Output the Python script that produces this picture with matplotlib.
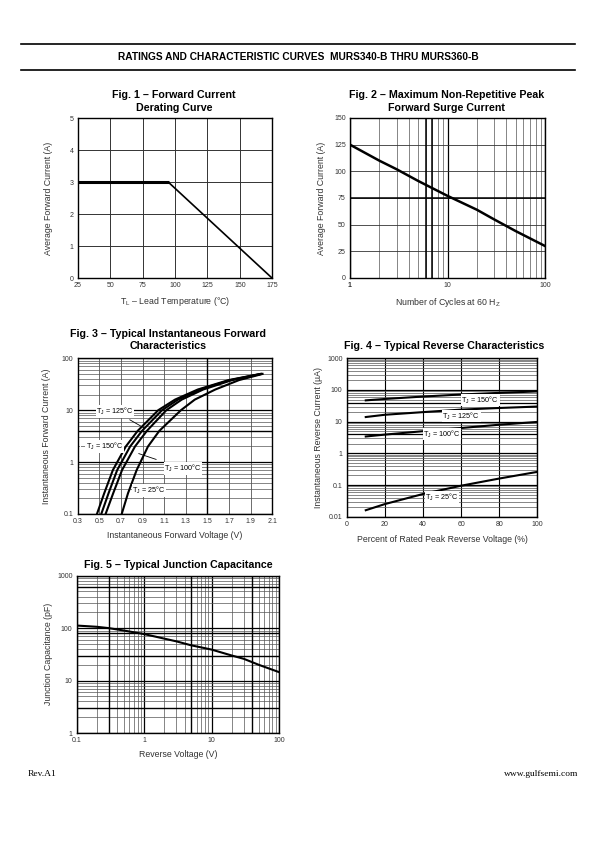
import matplotlib.pyplot as plt
import numpy as np
from matplotlib.ticker import LogLocator, NullFormatter, MultipleLocator

plt.rcParams['font.family'] = ['Liberation Sans', 'DejaVu Sans']
plt.rcParams['mathtext.fontset'] = 'custom'
plt.rcParams['mathtext.rm'] = 'Liberation Sans'
plt.rcParams['mathtext.it'] = 'Liberation Sans:italic'
plt.rcParams['mathtext.bf'] = 'Liberation Sans:bold'

# Fig 1 - derating curve
f1_temp = [25, 95, 175]
f1_curr = [3, 3, 0]

# Fig 2 - surge current
f2_cycles = [1, 2, 3, 5, 10, 20, 30, 50, 100]
f2_curr = [125, 110, 102, 91, 77, 64, 55, 44, 30]

# Fig 3 - forward characteristics (voltage at each current)
f3_current = [0.1, 0.25, 0.7, 2, 4, 10, 16, 25, 38, 50]
f3_v150 = [0.478, 0.545, 0.625, 0.745, 0.855, 1.045, 1.20, 1.41, 1.695, 1.99]
f3_v125 = [0.518, 0.585, 0.665, 0.785, 0.895, 1.08, 1.228, 1.428, 1.71, 1.995]
f3_v100 = [0.558, 0.628, 0.71, 0.83, 0.94, 1.12, 1.262, 1.46, 1.728, 2.0]
f3_v25 = [0.707, 0.765, 0.845, 0.95, 1.055, 1.255, 1.383, 1.572, 1.792, 2.01]

# Fig 4 - reverse characteristics
f4_pct = [10, 20, 40, 60, 80, 100]
f4_i150 = [47, 52, 62, 72, 81, 90]
f4_i125 = [14, 16.5, 20, 24, 27, 30]
f4_i100 = [3.4, 3.9, 5.0, 6.3, 8.0, 9.8]
f4_i25 = [0.016, 0.025, 0.052, 0.095, 0.16, 0.26]

# Fig 5 - junction capacitance
f5_volt = [0.1, 0.2, 0.3, 0.5, 1, 2, 3, 5, 10, 20, 30, 50, 100]
f5_cap = [112, 106, 100, 90, 77, 63, 56, 47, 39, 30, 26, 20, 14.5]

W, H = 595, 842
fig = plt.figure(figsize=(W / 100, H / 100), dpi=100)


def rect(l, r, t, b):
    return [l / W, 1 - b / H, (r - l) / W, (b - t) / H]


def px(x, y):
    return x / W, 1 - y / H


def style(ax):
    ax.tick_params(which='both', length=0, labelsize=5, pad=3, labelcolor='#333')
    for s in ax.spines.values():
        s.set_linewidth(1.0)
    ax.set_axisbelow(True)


def log_grid(ax, axis):
    getattr(ax, axis + 'axis').set_minor_locator(LogLocator(base=10, subs=np.arange(2, 10)))
    getattr(ax, axis + 'axis').set_minor_formatter(NullFormatter())
    ax.grid(which='minor', axis=axis, color='#555', lw=0.5)
    ax.grid(which='major', axis=axis, color='k', lw=0.9)


lab = dict(fontsize=6.3, color='#333')
tfont = dict(fontsize=7.7, fontweight='bold', ha='center', va='center')
box = dict(boxstyle='square,pad=0.1', fc='white', ec='none')

# header
fig.add_artist(plt.Line2D([21 / W, 575 / W], [1 - 43.5 / H] * 2, color='k', lw=1.2))
fig.add_artist(plt.Line2D([21 / W, 575 / W], [1 - 69.5 / H] * 2, color='k', lw=1.2))
fig.text(*px(298, 56.5), 'RATINGS AND CHARACTERISTIC CURVES  MURS340-B THRU MURS360-B',
         fontsize=7.3, fontweight='bold', ha='center', va='center')

# ---- Fig 1
ax1 = fig.add_axes(rect(77.7, 272.3, 118.3, 278.3))
ax1.plot(f1_temp[:2], f1_curr[:2], color='k', lw=2.2, solid_capstyle='butt')
ax1.plot(f1_temp[1:], f1_curr[1:], color='k', lw=1.2)
ax1.set_xlim(25, 175)
ax1.set_ylim(0, 5)
ax1.xaxis.set_major_locator(MultipleLocator(25))
ax1.yaxis.set_major_locator(MultipleLocator(1))
ax1.grid(color='#333', lw=0.7)
ax1.spines['bottom'].set_linewidth(1.6)
style(ax1)
ax1.set_xlabel(r'T$_\mathrm{L}$ – Lead Temperature (°C)', labelpad=4, **lab)
ax1.set_ylabel('Average Forward Current (A)', labelpad=12, **lab)
fig.text(*px(174, 95), 'Fig. 1 – Forward Current', **tfont)
fig.text(*px(174, 108), 'Derating Curve', **tfont)

# ---- Fig 2
ax2 = fig.add_axes(rect(350, 545, 118, 278))
ax2.plot(f2_cycles, f2_curr, color='k', lw=1.8)
ax2.set_xscale('log')
ax2.set_xlim(1, 100)
ax2.set_ylim(0, 150)
ax2.yaxis.set_major_locator(MultipleLocator(25))
ax2.set_xticks([1, 10, 100])
ax2.set_xticklabels(['1', '10', '100'])
log_grid(ax2, 'x')
ax2.grid(which='major', axis='y', color='#333', lw=0.6)
ax2.axvline(6, color='k', lw=1.1)
ax2.axvline(7, color='k', lw=1.1)
ax2.axhline(75, color='k', lw=1.1)
ax2.spines['right'].set_linewidth(1.8)
style(ax2)
ax2.get_xticklabels()[0].set_fontweight('bold')
ax2.set_xlabel(r'Number of Cycles at 60 H$_\mathrm{Z}$', labelpad=5, **lab)
ax2.set_ylabel('Average Forward Current (A)', labelpad=6, **lab)
fig.text(*px(447, 95), 'Fig. 2 – Maximum Non-Repetitive Peak', **tfont)
fig.text(*px(447, 108), 'Forward Surge Current', **tfont)

# ---- Fig 3
ax3 = fig.add_axes(rect(77.7, 272.3, 358.3, 514))
for v in (f3_v150, f3_v125, f3_v100, f3_v25):
    ax3.plot(v, f3_current, color='k', lw=1.5)
ax3.set_yscale('log')
ax3.set_xlim(0.3, 2.1)
ax3.set_ylim(0.1, 100)
ax3.set_xticks(np.round(np.arange(0.3, 2.11, 0.2), 1))
ax3.set_xticklabels(['0.3', '0.5', '0.7', '0.9', '1.1', '1.3', '1.5', '1.7', '1.9', '2.1'])
ax3.set_yticks([0.1, 1, 10, 100])
ax3.set_yticklabels(['0.1', '1', '10', '100'])
log_grid(ax3, 'y')
ax3.grid(which='major', axis='x', color='#555', lw=0.6)
ax3.axvline(1.5, color='k', lw=1.0)
ax3.axhline(4, color='k', lw=1.0)
style(ax3)
ax3.set_xlabel('Instantaneous Forward Voltage (V)', labelpad=4, **lab)
ax3.set_ylabel('Instantaneous Forward Current (A)', labelpad=8, **lab)
lbl = dict(fontsize=5.2, ha='center', va='center', bbox=box)
ax3.annotate(r'T$_\mathrm{J}$ = 125°C', xy=(0.91, 4.6), xytext=(0.645, 9.5),
             arrowprops=dict(arrowstyle='-', lw=0.6, color='k', shrinkA=3, shrinkB=0), **lbl)
ax3.text(0.525, 2.0, r'– T$_\mathrm{J}$ = 150°C', **lbl)
ax3.annotate(r'T$_\mathrm{J}$ = 100°C', xy=(0.864, 1.46), xytext=(1.274, 0.755),
             arrowprops=dict(arrowstyle='-', lw=0.6, color='k', shrinkA=6, shrinkB=0), **lbl)
ax3.text(0.959, 0.28, r'T$_\mathrm{J}$ = 25°C', **lbl)
fig.text(*px(168, 334), 'Fig. 3 – Typical Instantaneous Forward', **tfont)
fig.text(*px(168, 346), 'Characteristics', **tfont)

# ---- Fig 4
ax4 = fig.add_axes(rect(346.7, 537.3, 358.3, 516.7))
for i in (f4_i150, f4_i125, f4_i100, f4_i25):
    ax4.plot(f4_pct, i, color='k', lw=1.5)
ax4.set_yscale('log')
ax4.set_xlim(0, 100)
ax4.set_ylim(0.01, 1000)
ax4.xaxis.set_major_locator(MultipleLocator(20))
ax4.set_yticks([0.01, 0.1, 1, 10, 100, 1000])
ax4.set_yticklabels(['0.01', '0.1', '1', '10', '100', '1000'])
log_grid(ax4, 'y')
ax4.grid(which='major', axis='x', color='k', lw=0.8)
ax4.axhline(40, color='k', lw=0.9)
ax4.axhline(4, color='k', lw=0.9)
style(ax4)
ax4.set_xlabel('Percent of Rated Peak Reverse Voltage (%)', labelpad=5, **lab)
ax4.set_ylabel('Instantaneous Reverse Current (µA)', labelpad=3, **lab)
ax4.text(70, 48, r'T$_\mathrm{J}$ = 150°C', **lbl)
ax4.text(60, 15, r'T$_\mathrm{J}$ = 125°C', **lbl)
ax4.text(50, 4.1, r'T$_\mathrm{J}$ = 100°C', **lbl)
ax4.text(50, 0.04, r'T$_\mathrm{J}$ = 25°C', **lbl)
fig.text(*px(444, 346), 'Fig. 4 – Typical Reverse Characteristics', **tfont)

# ---- Fig 5
ax5 = fig.add_axes(rect(76.7, 279, 575.7, 733))
ax5.plot(f5_volt, f5_cap, color='k', lw=1.5)
ax5.set_xscale('log')
ax5.set_yscale('log')
ax5.set_xlim(0.1, 100)
ax5.set_ylim(1, 1000)
ax5.set_xticks([0.1, 1, 10, 100])
ax5.set_xticklabels(['0.1', '1', '10', '100'])
ax5.set_yticks([1, 10, 100, 1000])
ax5.set_yticklabels(['1', '10', '100', '1000'])
log_grid(ax5, 'x')
log_grid(ax5, 'y')
for v in (0.3, 5, 40):
    ax5.axvline(v, color='k', lw=1.0)
for c in (600, 80, 30, 3):
    ax5.axhline(c, color='k', lw=1.0)
style(ax5)
ax5.set_xlabel('Reverse Voltage (V)', labelpad=4, **lab)
ax5.set_ylabel('Junction Capacitance (pF)', labelpad=3, **lab)
fig.text(*px(178, 565), 'Fig. 5 – Typical Junction Capacitance', **tfont)

# footer
ffont = dict(fontsize=6.8, family=['Liberation Serif', 'DejaVu Serif'], va='center')
fig.text(*px(28, 774), 'Rev.A1', ha='left', **ffont)
fig.text(*px(578, 774), 'www.gulfsemi.com', ha='right', **ffont)

fig.savefig('out.png', dpi=100)
